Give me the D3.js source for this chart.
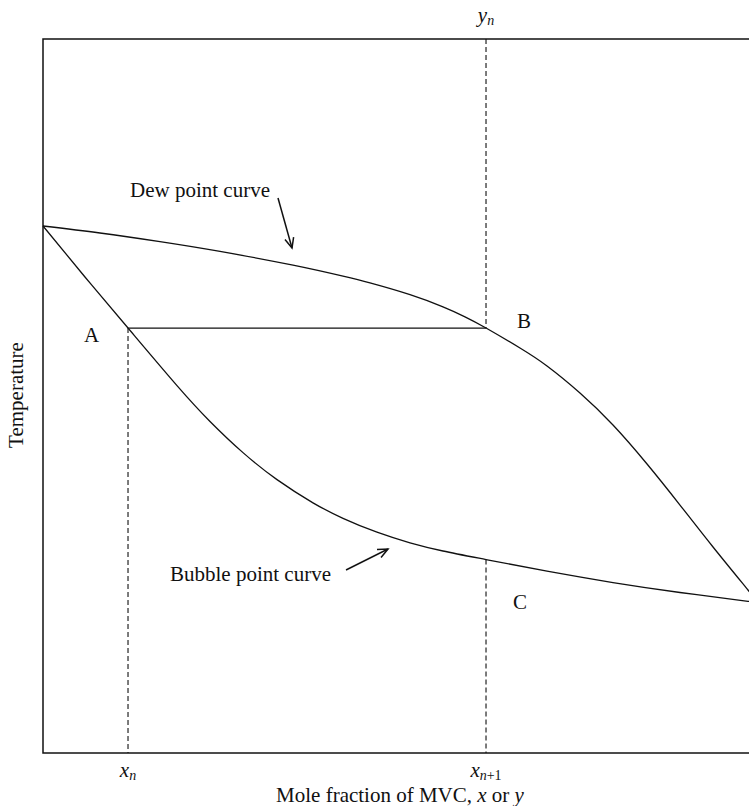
<!DOCTYPE html>
<html>
<head>
<meta charset="utf-8">
<script src="https://cdn.jsdelivr.net/npm/d3@7"></script>
<style>
  html, body { margin: 0; padding: 0; background: #fff; }
  svg { display: block; }
  text { font-family: "Liberation Serif", "DejaVu Serif", serif; fill: #111; }
</style>
</head>
<body>
<svg id="chart" width="749" height="806"></svg>
<script>
// Mole fraction of the more volatile component (0..1)
const dewX    = [0, 0.0797, 0.1636, 0.2476, 0.3497, 0.4196, 0.4573, 0.5133, 0.5594, 0.5902, 0.6196, 0.6671, 0.7049, 0.7510, 0.7972, 0.8448, 0.8909, 0.9371, 0.9860, 1.0];
// Temperature along the dew point curve (arbitrary units)
const dewT    = [73.81, 72.83, 71.62, 70.25, 68.32, 66.78, 65.84, 64.19, 62.48, 61.09, 59.52, 56.72, 54.20, 50.42, 45.94, 40.48, 34.73, 28.85, 22.83, 21.08];
const bubbleX = [0, 0.0587, 0.1189, 0.1874, 0.2336, 0.2797, 0.3273, 0.3776, 0.4196, 0.4671, 0.5133, 0.5594, 0.6196, 0.7049, 0.7972, 0.8909, 0.9860, 1.0];
// Temperature along the bubble point curve
const bubbleT = [73.81, 66.67, 59.52, 51.46, 46.44, 42.07, 38.29, 35.04, 32.87, 30.92, 29.44, 28.29, 27.09, 25.46, 23.87, 22.48, 21.25, 21.08];

// Tie line A–B and the compositions marked on the axes
const xn = 0.1189, xn1 = 0.6196, tieT = 59.52, pointCT = 27.09;
const pointLabels = ["A", "B", "C"];
const curveLabels = ["Dew point curve", "Bubble point curve"];
const yTitle = "Temperature";

const svg = d3.select("#chart");
const m = { left: 43, right: 758, top: 39, bottom: 753 };

const x = d3.scaleLinear().domain([0, 1]).range([m.left, m.right]);
const y = d3.scaleLinear().domain([0, 100]).range([m.bottom, m.top]);

// Plot frame
svg.append("rect")
  .attr("x", m.left).attr("y", m.top)
  .attr("width", m.right - m.left).attr("height", m.bottom - m.top)
  .attr("fill", "none").attr("stroke", "#111").attr("stroke-width", 1.5);

const line = d3.line().x(d => x(d[0])).y(d => y(d[1])).curve(d3.curveNatural);

const dew = dewX.map((v, i) => [v, dewT[i]]);
const bubble = bubbleX.map((v, i) => [v, bubbleT[i]]);

svg.append("path").attr("d", line(dew))
  .attr("fill", "none").attr("stroke", "#111").attr("stroke-width", 1.3);
svg.append("path").attr("d", line(bubble))
  .attr("fill", "none").attr("stroke", "#111").attr("stroke-width", 1.3);

// Tie line A–B
svg.append("line")
  .attr("x1", x(xn)).attr("x2", x(xn1)).attr("y1", y(tieT)).attr("y2", y(tieT))
  .attr("stroke", "#111").attr("stroke-width", 1.3);

// Dashed construction lines
const dashed = [
  [xn, tieT, xn, 0],
  [xn1, 100, xn1, tieT],
  [xn1, pointCT, xn1, 0]
];
svg.selectAll("line.dash").data(dashed).enter().append("line")
  .attr("class", "dash")
  .attr("x1", d => x(d[0])).attr("y1", d => y(d[1]))
  .attr("x2", d => x(d[2])).attr("y2", d => y(d[3]))
  .attr("stroke", "#111").attr("stroke-width", 1.1)
  .attr("stroke-dasharray", "5,3");

// Point labels
svg.append("text").attr("x", x(xn) - 44).attr("y", y(tieT) + 14).attr("font-size", 21).text(pointLabels[0]);
svg.append("text").attr("x", x(xn1) + 31).attr("y", y(tieT)).attr("font-size", 21).text(pointLabels[1]);
svg.append("text").attr("x", x(xn1) + 27).attr("y", y(pointCT) + 49).attr("font-size", 21).text(pointLabels[2]);

// Curve annotations with open arrowheads
function arrow(x1, y1, x2, y2) {
  const ang = Math.atan2(y2 - y1, x2 - x1), L = 11, w = 0.42;
  svg.append("line").attr("x1", x1).attr("y1", y1).attr("x2", x2).attr("y2", y2)
    .attr("stroke", "#111").attr("stroke-width", 1.5);
  const p = d3.path();
  p.moveTo(x2 - L * Math.cos(ang - w), y2 - L * Math.sin(ang - w));
  p.lineTo(x2, y2);
  p.lineTo(x2 - L * Math.cos(ang + w), y2 - L * Math.sin(ang + w));
  svg.append("path").attr("d", p.toString()).attr("fill", "none")
    .attr("stroke", "#111").attr("stroke-width", 1.5);
}
svg.append("text").attr("x", 130).attr("y", 197).attr("font-size", 21).text(curveLabels[0]);
arrow(278, 198, 292, 248);
svg.append("text").attr("x", 170).attr("y", 581).attr("font-size", 21).text(curveLabels[1]);
arrow(346, 570, 388, 549);

// Composition labels with subscripts
function subLabel(cx, yy, base, sub) {
  const t = svg.append("text").attr("x", cx).attr("y", yy).attr("text-anchor", "middle").attr("font-size", 21);
  t.append("tspan").attr("font-style", "italic").text(base);
  const s = t.append("tspan").attr("font-size", 14).attr("dy", 3);
  s.append("tspan").attr("font-style", "italic").text(sub[0]);
  if (sub[1]) s.append("tspan").text(sub[1]);
}
subLabel(x(xn1), 22, "y", ["n"]);
subLabel(x(xn), 777, "x", ["n"]);
subLabel(x(xn1), 777, "x", ["n", "+1"]);

// Axis titles
const xt = svg.append("text").attr("x", 400).attr("y", 802).attr("text-anchor", "middle").attr("font-size", 21);
xt.append("tspan").text("Mole fraction of MVC, ");
xt.append("tspan").attr("font-style", "italic").text("x");
xt.append("tspan").text(" or ");
xt.append("tspan").attr("font-style", "italic").text("y");

svg.append("text").attr("transform", "translate(23,395) rotate(-90)")
  .attr("text-anchor", "middle").attr("font-size", 21).text(yTitle);
</script>
</body>
</html>
